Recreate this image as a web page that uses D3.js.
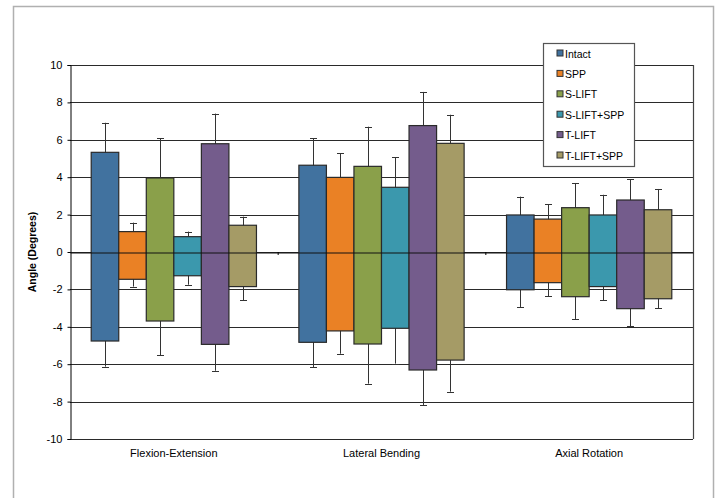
<html>
<head>
<meta charset="utf-8">
<script src="https://d3js.org/d3.v7.min.js"></script>
<style>
  body { margin: 0; background: #fff; }
  text { font-family: "Liberation Sans", Arial, sans-serif; fill: #000; }
</style>
</head>
<body>
<script>
var w = 717, h = 498;

var categories = ["Flexion-Extension", "Lateral Bending", "Axial Rotation"];
var series = ["Intact", "SPP", "S-LIFT", "S-LIFT+SPP", "T-LIFT", "T-LIFT+SPP"];
var colors = ["#41729f", "#ea8125", "#8aa04a", "#3b98ad", "#745c8c", "#a59b66"];
var yTicks = [-10, -8, -6, -4, -2, 0, 2, 4, 6, 8, 10];

// positive / negative means per series, per category
var posMean = [
  [5.33, 4.64, 1.98],
  [1.09, 3.99, 1.76],
  [3.96, 4.58, 2.37],
  [0.82, 3.46, 1.98],
  [5.79, 6.76, 2.78],
  [1.43, 5.81, 2.26]
];
var negMean = [
  [-4.76, -4.83, -2.02],
  [-1.46, -4.22, -1.64],
  [-3.69, -4.92, -2.39],
  [-1.27, -4.08, -1.85],
  [-4.94, -6.31, -3.03],
  [-1.85, -5.78, -2.50]
];
// error bar ends
var posErr = [
  [6.91, 6.08, 2.96],
  [1.57, 5.29, 2.55],
  [6.08, 6.70, 3.69],
  [1.09, 5.08, 3.06],
  [7.40, 8.56, 3.90],
  [1.89, 7.34, 3.37]
];
var negErr = [
  [-6.13, -6.17, -2.94],
  [-1.85, -5.44, -2.37],
  [-5.51, -7.04, -3.58],
  [-1.75, -5.97, -2.57],
  [-6.35, -8.18, -3.97],
  [-2.58, -7.47, -3.01]
];

var svg = d3.select("body").append("svg").attr("width", w).attr("height", h);

// outer chart border
svg.append("rect")
  .attr("x", 13.5).attr("y", 6.5).attr("width", 700).attr("height", 500)
  .attr("fill", "none").attr("stroke", "#b0b0b0").attr("stroke-width", 1.5);

var pLeft = 70, pRight = 693, pTop = 65, pBottom = 439;

var y = d3.scaleLinear().domain([-10, 10]).range([pBottom, pTop]);
var x0 = d3.scaleBand().domain(categories).range([pLeft, pRight]).paddingInner(0).paddingOuter(0);
var x1 = d3.scaleBand().domain(series).range([0, x0.bandwidth()]).paddingOuter(0.77).paddingInner(0);

// gridlines
svg.selectAll(".grid").data(yTicks).enter().append("line")
  .attr("class", "grid")
  .attr("x1", pLeft).attr("x2", pRight)
  .attr("y1", function(d){ return Math.round(y(d)) + 0.5; })
  .attr("y2", function(d){ return Math.round(y(d)) + 0.5; })
  .attr("stroke", "#2a2a2a").attr("stroke-width", 1);

svg.append("line")
  .attr("x1", pRight + 0.5).attr("x2", pRight + 0.5).attr("y1", pTop).attr("y2", pBottom)
  .attr("stroke", "#444").attr("stroke-width", 1.2);

// y axis
var yAxis = d3.axisLeft(y).tickValues(yTicks).tickSize(3).tickPadding(5)
  .tickFormat(function(d){ return String(d); });
var ya = svg.append("g").attr("transform", "translate(" + (pLeft + 0.5) + ",0)").call(yAxis);
ya.select(".domain").attr("stroke", "#000");
ya.selectAll(".tick line").attr("stroke", "#000");
ya.selectAll("text").attr("font-size", 11).attr("font-family", "Liberation Sans, Arial, sans-serif").attr("fill", "#000");

svg.append("text")
  .attr("transform", "translate(36," + y(0) + ") rotate(-90)")
  .attr("text-anchor", "middle")
  .attr("font-size", 10.5).attr("font-weight", "bold")
  .text("Angle (Degrees)");

// bars
var rows = [];
series.forEach(function(s, i){
  categories.forEach(function(c, j){
    rows.push({s: s, i: i, c: c, pos: posMean[i][j], neg: negMean[i][j], ep: posErr[i][j], en: negErr[i][j]});
  });
});

function bx(d){ return x0(d.c) + x1(d.s); }

// error bars
var eb = svg.selectAll(".eb").data(rows).enter().append("g").attr("class", "eb");
eb.append("line")
  .attr("x1", function(d){ return Math.round(bx(d) + x1.bandwidth()/2) + 0.5; })
  .attr("x2", function(d){ return Math.round(bx(d) + x1.bandwidth()/2) + 0.5; })
  .attr("y1", function(d){ return y(d.en); })
  .attr("y2", function(d){ return y(d.ep); })
  .attr("stroke", "#333").attr("stroke-width", 1);
eb.selectAll(".cap").data(function(d){ return [{d: d, v: d.ep}, {d: d, v: d.en}]; })
  .enter().append("line")
  .attr("x1", function(e){ return Math.round(bx(e.d) + x1.bandwidth()/2) - 3; })
  .attr("x2", function(e){ return Math.round(bx(e.d) + x1.bandwidth()/2) + 4; })
  .attr("y1", function(e){ return Math.round(y(e.v)) + 0.5; })
  .attr("y2", function(e){ return Math.round(y(e.v)) + 0.5; })
  .attr("stroke", "#333").attr("stroke-width", 1);

svg.selectAll(".bar").data(rows).enter().append("rect")
  .attr("class", "bar")
  .attr("x", function(d){ return bx(d); })
  .attr("width", x1.bandwidth())
  .attr("y", function(d){ return y(d.pos); })
  .attr("height", function(d){ return y(d.neg) - y(d.pos); })
  .attr("fill", function(d){ return colors[d.i]; })
  .attr("stroke", "#2a2a2a").attr("stroke-width", 1.2);

// category axis at zero
var xAxis = d3.axisBottom(x0).tickSize(0).tickFormat("");
var xa = svg.append("g").attr("transform", "translate(0," + (Math.round(y(0)) + 0.5) + ")").call(xAxis);
xa.select(".domain").attr("stroke", "#111").attr("stroke-width", 1.1);
svg.selectAll(".ctick").data(categories.slice(1)).enter().append("line")
  .attr("x1", function(d){ return x0(d) + 0.5; }).attr("x2", function(d){ return x0(d) + 0.5; })
  .attr("y1", y(0)).attr("y2", y(0) + 3)
  .attr("stroke", "#000");

svg.selectAll(".clabel").data(categories).enter().append("text")
  .attr("x", function(d){ return x0(d) + x0.bandwidth()/2; })
  .attr("y", 457)
  .attr("text-anchor", "middle")
  .attr("font-size", 11)
  .text(function(d){ return d; });

// legend
var lg = svg.append("g").attr("transform", "translate(543,43)");
lg.append("rect").attr("x", 0.5).attr("y", 0.5).attr("width", 91).attr("height", 123)
  .attr("fill", "#fff").attr("stroke", "#555").attr("stroke-width", 1.2);
var li = lg.selectAll(".li").data(series).enter().append("g")
  .attr("transform", function(d, i){ return "translate(14," + (7 + i * 20.4) + ")"; });
li.append("rect").attr("width", 6).attr("height", 6)
  .attr("fill", function(d, i){ return colors[i]; })
  .attr("stroke", "#333").attr("stroke-width", 1);
li.append("text").attr("x", 8).attr("y", 7.5)
  .attr("font-size", 10.5)
  .text(function(d){ return d; });
</script>
</body>
</html>
